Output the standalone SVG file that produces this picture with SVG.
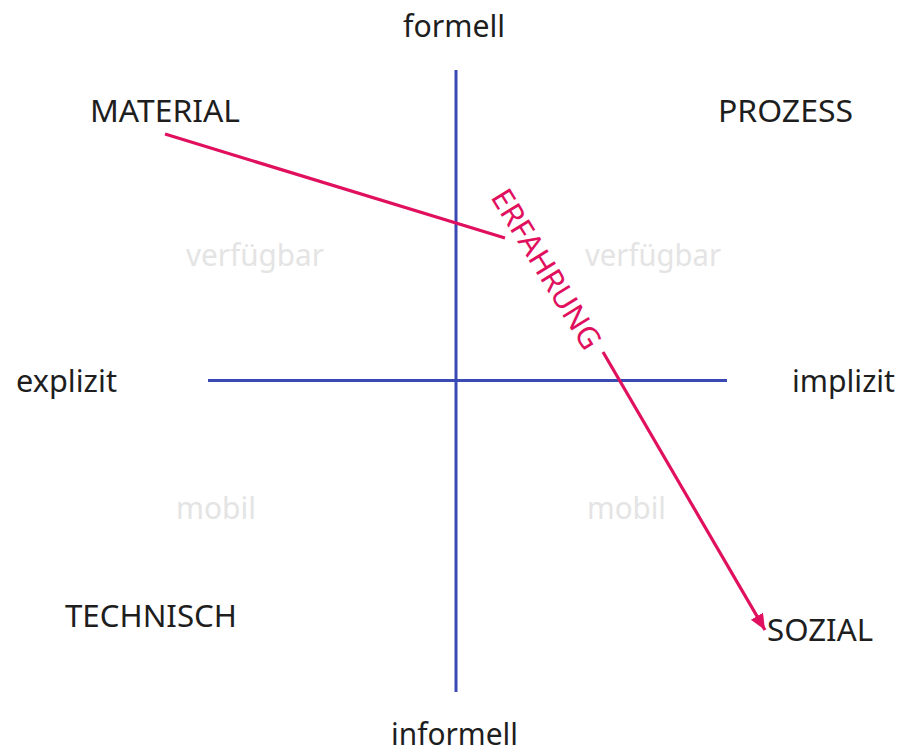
<svg xmlns="http://www.w3.org/2000/svg" width="900" height="753" viewBox="0 0 900 753">
<style>
.lbl{font-family:"Noto Sans","Liberation Sans",sans-serif;font-size:31px;fill:#1e1e1e}
.sub{font-family:"Noto Sans","Liberation Sans",sans-serif;font-size:31px;fill:#e4e4e4}
.axis{stroke:#3b49b5;stroke-width:3;fill:none}
.pink{stroke:#e0105e;stroke-width:3.2;fill:none}
</style>
<defs>
<marker id="ah" markerUnits="userSpaceOnUse" markerWidth="20" markerHeight="16" refX="16" refY="7" orient="auto">
<path d="M0,0 L16,7 L0,14 Z" fill="#e0105e"/>
</marker>
</defs>
<rect width="900" height="753" fill="#fff"/>
<g id="axes">
<line class="axis" x1="456" y1="70" x2="456" y2="692"/>
<line class="axis" x1="208" y1="380.5" x2="727" y2="380.5"/>
</g>
<g id="connectors">
<line class="pink" x1="165" y1="134" x2="505" y2="238"/>
<line class="pink" x1="603" y1="352" x2="765" y2="630" marker-end="url(#ah)"/>
</g>
<g id="n-formell"><text class="lbl" x="403" y="37" textLength="102" lengthAdjust="spacingAndGlyphs">formell</text></g>
<g id="n-informell"><text class="lbl" x="391" y="745" textLength="127" lengthAdjust="spacingAndGlyphs">informell</text></g>
<g id="n-explizit"><text class="lbl" x="16" y="392" textLength="101" lengthAdjust="spacingAndGlyphs">explizit</text></g>
<g id="n-implizit"><text class="lbl" x="792" y="392" textLength="103" lengthAdjust="spacingAndGlyphs">implizit</text></g>
<g id="n-material"><text class="lbl" x="90" y="122" textLength="150" lengthAdjust="spacingAndGlyphs">MATERIAL</text></g>
<g id="n-prozess"><text class="lbl" x="718" y="122" textLength="135" lengthAdjust="spacingAndGlyphs">PROZESS</text></g>
<g id="n-technisch"><text class="lbl" x="65" y="627" textLength="172" lengthAdjust="spacingAndGlyphs">TECHNISCH</text></g>
<g id="n-sozial"><text class="lbl" x="767" y="641" textLength="106" lengthAdjust="spacingAndGlyphs">SOZIAL</text></g>
<g id="n-verf1"><text class="sub" x="186" y="266" textLength="138" lengthAdjust="spacingAndGlyphs">verfügbar</text></g>
<g id="n-verf2"><text class="sub" x="585" y="266" textLength="136" lengthAdjust="spacingAndGlyphs">verfügbar</text></g>
<g id="n-mobil1"><text class="sub" x="176" y="519" textLength="80" lengthAdjust="spacingAndGlyphs">mobil</text></g>
<g id="n-mobil2"><text class="sub" x="587" y="519" textLength="79" lengthAdjust="spacingAndGlyphs">mobil</text></g>
<g id="n-erfahrung"><text x="0" y="0" transform="translate(490,197) rotate(58.5)" style="font-family:'Noto Sans','Liberation Sans',sans-serif;font-size:30px;fill:#e0105e" textLength="182" lengthAdjust="spacingAndGlyphs">ERFAHRUNG</text></g>
</svg>
